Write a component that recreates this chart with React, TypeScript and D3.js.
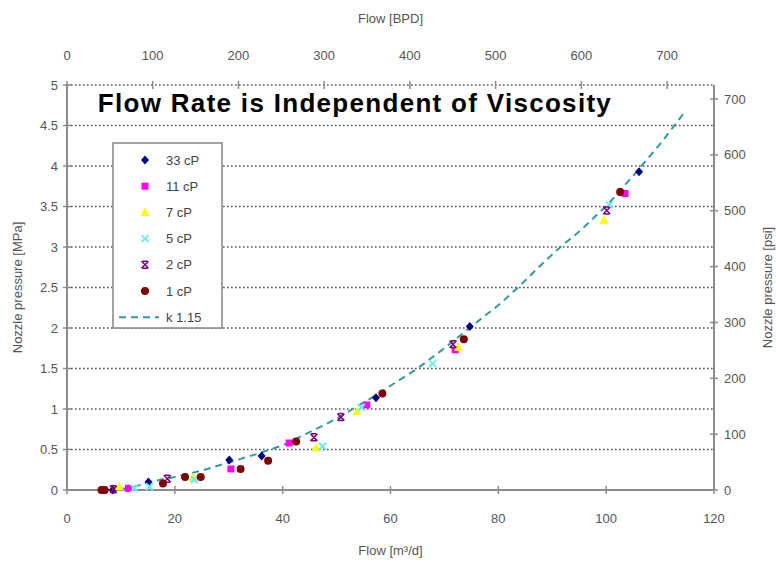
import * as d3 from "d3";

// Flow in m³/d, nozzle pressure in MPa
const series = ["33 cP", "11 cP", "7 cP", "5 cP", "2 cP", "1 cP"];
const colors = ["#000080", "#ff00ff", "#ffff00", "#66f0f0", "#800080", "#800000"];
const shapes = ["diamond", "square", "triangle", "cross", "star", "circle"];

const flow33 = [8.5, 15.1, 30.1, 36.1, 57.3, 74.7, 106.1];
const pres33 = [0, 0.1, 0.37, 0.42, 1.14, 2.02, 3.93];
const flow11 = [11.4, 30.4, 41.2, 55.6, 72.0, 103.5];
const pres11 = [0.02, 0.26, 0.58, 1.05, 1.73, 3.66];
const flow7 = [9.7, 23.4, 46.2, 53.8, 72.6, 99.6];
const pres7 = [0.04, 0.15, 0.52, 0.97, 1.76, 3.33];
const flow5 = [12.5, 15.3, 23.6, 47.4, 54.6, 67.8, 100.6];
const pres5 = [0.02, 0.04, 0.13, 0.54, 1.02, 1.56, 3.52];
const flow2 = [8.6, 18.6, 45.8, 50.8, 71.6, 100.1];
const pres2 = [0.01, 0.14, 0.65, 0.9, 1.8, 3.45];
const flow1 = [6.4, 7.0, 17.8, 21.9, 24.8, 32.2, 37.3, 42.5, 58.5, 73.6, 102.6];
const pres1 = [0, 0, 0.08, 0.16, 0.16, 0.26, 0.36, 0.6, 1.19, 1.86, 3.68];

const fitFlow = [8, 12, 16, 20, 25, 30, 35, 40, 43, 47, 50, 53, 57, 61, 65, 70, 75, 80, 83.5, 87, 91, 95.5, 100.5, 105, 110, 114.6];
const fitPres = [0, 0.03, 0.11, 0.16, 0.24, 0.34, 0.44, 0.55, 0.65, 0.78, 0.88, 1.0, 1.16, 1.33, 1.5, 1.75, 2.02, 2.28, 2.49, 2.72, 2.97, 3.22, 3.54, 3.88, 4.27, 4.67];

const xTicks = [0, 20, 40, 60, 80, 100, 120];
const yTicks = [0, 0.5, 1, 1.5, 2, 2.5, 3, 3.5, 4, 4.5, 5];
const bpdTicks = [0, 100, 200, 300, 400, 500, 600, 700];
const psiTicks = [0, 100, 200, 300, 400, 500, 600, 700];

const seriesFlow = [flow33, flow11, flow7, flow5, flow2, flow1];
const seriesPres = [pres33, pres11, pres7, pres5, pres2, pres1];

const W = 776;
const H = 562;
const M3_TO_BPD = 6.2898;
const MPA_TO_PSI = 145.038;

const font = "Arial, 'Liberation Sans', sans-serif";
const axisGray = "#8c8c8c";
const textGray = "#555";

function Marker({ shape, x, y, color }: { shape: string; x: number; y: number; color: string }) {
  if (shape === "diamond") {
    return <path d={`M${x},${y - 4.5}L${x + 4},${y}L${x},${y + 4.5}L${x - 4},${y}Z`} fill={color} />;
  }
  if (shape === "square") {
    return <rect x={x - 3.5} y={y - 3.5} width={7} height={7} fill={color} />;
  }
  if (shape === "triangle") {
    return <path d={`M${x},${y - 5}L${x + 4.5},${y + 3.5}L${x - 4.5},${y + 3.5}Z`} fill={color} />;
  }
  if (shape === "cross") {
    return (
      <path d={`M${x - 3.5},${y - 3.5}L${x + 3.5},${y + 3.5}M${x + 3.5},${y - 3.5}L${x - 3.5},${y + 3.5}`} stroke={color} strokeWidth={2} />
    );
  }
  if (shape === "star") {
    return (
      <path
        d={`M${x - 3.5},${y - 3.5}L${x + 3.5},${y + 3.5}M${x + 3.5},${y - 3.5}L${x - 3.5},${y + 3.5}M${x - 2.5},${y - 3.5}L${x + 2.5},${y - 3.5}M${x - 2.5},${y + 3.5}L${x + 2.5},${y + 3.5}`}
        stroke={color}
        strokeWidth={1.5}
      />
    );
  }
  return <circle cx={x} cy={y} r={4} fill={color} />;
}

export default function App() {
  const x = d3.scaleLinear().domain([0, 120]).range([67, 714]);
  const y = d3.scaleLinear().domain([0, 5]).range([490, 85]);
  const xTop = d3.scaleLinear().domain([0, 120 * M3_TO_BPD]).range([67, 714]);
  const yRight = d3.scaleLinear().domain([0, 5 * MPA_TO_PSI]).range([490, 85]);

  const line = d3
    .line<number>()
    .x((d) => x(d))
    .y((_, i) => y(fitPres[i]))
    .curve(d3.curveLinear);

  const [x0, x1] = x.range();
  const [y0, y1] = y.range();

  const legendX = 113;
  const legendY = 143;
  const rowH = 26.2;

  return (
    <svg width={W} height={H} style={{ position: "absolute", left: 0, top: 0, background: "#fff" }} fontFamily={font}>
      <rect width={W} height={H} fill="#fff" />

      {/* gridlines */}
      {yTicks.map((t) => (
        <line key={`g${t}`} x1={x0} x2={x1} y1={y(t)} y2={y(t)} stroke="#555" strokeWidth={1.6} strokeDasharray="1.6,2.4" />
      ))}

      {/* axes frame */}
      <line x1={x0} x2={x0} y1={y1} y2={y0} stroke={axisGray} strokeWidth={2} />
      <line x1={x1} x2={x1} y1={y1} y2={y0} stroke={axisGray} strokeWidth={2} />
      <line x1={x0} x2={x1} y1={y0} y2={y0} stroke={axisGray} strokeWidth={2} />

      {/* left ticks */}
      {yTicks.map((t) => (
        <g key={`yl${t}`}>
          <line x1={x0 - 4} x2={x0 + 4} y1={y(t)} y2={y(t)} stroke={axisGray} strokeWidth={1.5} />
          <text x={x0 - 9} y={y(t)} dy="0.35em" textAnchor="end" fontSize={13} fill={textGray}>
            {t}
          </text>
        </g>
      ))}

      {/* right ticks (psi) */}
      {psiTicks.map((t) => (
        <g key={`yr${t}`}>
          <line x1={x1 - 4} x2={x1 + 4} y1={yRight(t)} y2={yRight(t)} stroke={axisGray} strokeWidth={1.5} />
          <text x={x1 + 10} y={yRight(t)} dy="0.35em" fontSize={13} fill={textGray}>
            {t}
          </text>
        </g>
      ))}

      {/* bottom ticks */}
      {xTicks.map((t) => (
        <g key={`xb${t}`}>
          <line x1={x(t)} x2={x(t)} y1={y0 - 4} y2={y0 + 4} stroke={axisGray} strokeWidth={1.5} />
          <text x={x(t)} y={y0 + 33} textAnchor="middle" fontSize={13} fill={textGray}>
            {t}
          </text>
        </g>
      ))}

      {/* top ticks (BPD) */}
      {bpdTicks.map((t) => (
        <g key={`xt${t}`}>
          <line x1={xTop(t)} x2={xTop(t)} y1={y1 - 4} y2={y1 + 4} stroke={axisGray} strokeWidth={1.5} />
          <text x={xTop(t)} y={y1 - 25} textAnchor="middle" fontSize={13} fill={textGray}>
            {t}
          </text>
        </g>
      ))}

      {/* axis titles */}
      <text x={(x0 + x1) / 2} y={23} textAnchor="middle" fontSize={13} fill={textGray}>
        Flow [BPD]
      </text>
      <text x={(x0 + x1) / 2} y={555} textAnchor="middle" fontSize={13} fill={textGray}>
        Flow [m³/d]
      </text>
      <text transform={`translate(22,${(y0 + y1) / 2}) rotate(-90)`} textAnchor="middle" fontSize={13} fill={textGray}>
        Nozzle pressure [MPa]
      </text>
      <text transform={`translate(772,${(y0 + y1) / 2}) rotate(-90)`} textAnchor="middle" fontSize={13} fill={textGray}>
        Nozzle pressure [psi]
      </text>

      {/* chart title */}
      <text x={355} y={112} textAnchor="middle" fontSize={26} fontWeight="bold" fill="#000" letterSpacing={1.3}>
        Flow Rate is Independent of Viscosity
      </text>

      {/* fitted curve */}
      <path d={line(fitFlow) ?? ""} fill="none" stroke="#2f9c9c" strokeWidth={2} strokeDasharray="7,5" />

      {/* points */}
      {series.map((s, si) =>
        seriesFlow[si].map((f, i) => (
          <Marker key={`${s}-${i}`} shape={shapes[si]} x={x(f)} y={y(seriesPres[si][i])} color={colors[si]} />
        ))
      )}

      {/* legend */}
      <rect x={legendX} y={legendY} width={109} height={185} fill="#fff" stroke={axisGray} strokeWidth={1.6} />
      {series.map((s, i) => (
        <g key={`lg${s}`}>
          <Marker shape={shapes[i]} x={legendX + 32} y={legendY + 17 + i * rowH} color={colors[i]} />
          <text x={legendX + 53} y={legendY + 17 + i * rowH} dy="0.35em" fontSize={13} fill="#444">
            {s}
          </text>
        </g>
      ))}
      <line
        x1={legendX + 6}
        x2={legendX + 46}
        y1={legendY + 17 + 6 * rowH}
        y2={legendY + 17 + 6 * rowH}
        stroke="#2f9c9c"
        strokeWidth={2}
        strokeDasharray="7,5"
      />
      <text x={legendX + 53} y={legendY + 17 + 6 * rowH} dy="0.35em" fontSize={13} fill="#444">
        k 1.15
      </text>
    </svg>
  );
}
